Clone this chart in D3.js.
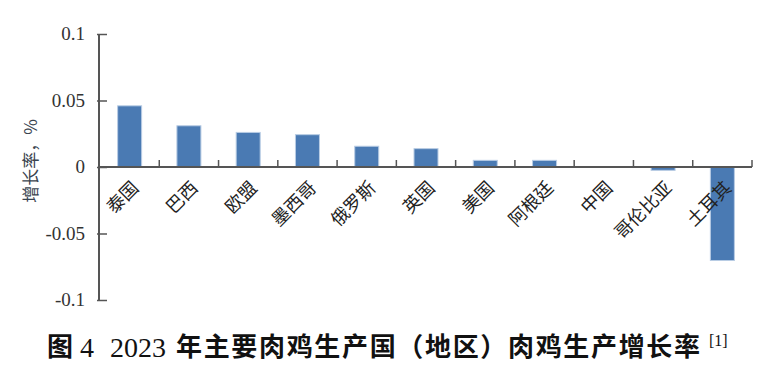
<!DOCTYPE html>
<html><head><meta charset="utf-8">
<script src="https://cdn.jsdelivr.net/npm/d3@7/dist/d3.min.js"></script>
<style>body{margin:0;background:#fff}svg{display:block}</style>
</head><body><svg id="c" width="784" height="377"></svg>
<script>
const categories = ["泰国","巴西","欧盟","墨西哥","俄罗斯","英国","美国","阿根廷","中国","哥伦比亚","土耳其"];
const values = [0.046, 0.031, 0.026, 0.0243, 0.0156, 0.0138, 0.005, 0.005, 0, -0.0025, -0.0703];
const yTicks = [0.1, 0.05, 0, -0.05, -0.1];
const yTickLabels = ["0.1","0.05","0","-0.05","-0.1"];

(function(){
const svg = d3.select("#c");
const mLeft = 100, mRight = 752, mTop = 34, mBottom = 300;
const x = d3.scaleBand().domain(categories).range([mLeft, mRight]).paddingInner(0).paddingOuter(0);
const y = d3.scaleLinear().domain([-0.1, 0.1]).range([mBottom, mTop]);
const barW = 24;
const axisColor = "#555";
const serif = "'Liberation Serif','DejaVu Serif',serif";
const cjk = "'Noto Sans CJK SC','Noto Sans CJK JP',sans-serif";

// bars
svg.append("g").selectAll("rect").data(values).join("rect")
  .attr("x", (d,i) => x(categories[i]) + x.bandwidth()/2 - barW/2)
  .attr("width", barW)
  .attr("y", d => Math.min(y(d), y(0)))
  .attr("height", d => Math.abs(y(d) - y(0)))
  .attr("fill", "#4a7ab3")
  .attr("stroke", "#b8cce4").attr("stroke-width", 1);

// y axis
const yAxis = d3.axisRight(y).tickValues(yTicks).tickSize(8).tickFormat("");
const yg = svg.append("g").attr("transform", `translate(${mLeft - 1},0)`).call(yAxis);
yg.select(".domain").attr("stroke", axisColor).attr("stroke-width", 2).attr("d", `M0,${mTop}V${mBottom}`);
yg.selectAll(".tick line").attr("stroke", axisColor).attr("stroke-width", 1.5).attr("x1", -2);
svg.append("g").selectAll("text").data(yTicks).join("text")
  .attr("x", mLeft - 15).attr("y", d => y(d) + 6)
  .attr("text-anchor", "end")
  .attr("font-family", serif).attr("font-size", 19).attr("fill", "#333")
  .text((d,i) => yTickLabels[i]);

// x axis (at zero)
const xg = svg.append("g").attr("transform", `translate(0,${y(0)})`);
xg.append("line").attr("x1", mLeft).attr("x2", mRight).attr("stroke", axisColor).attr("stroke-width", 2);
const bounds = categories.map(c => x(c) + x.bandwidth());
xg.selectAll("line.t").data(bounds).join("line").attr("class","t")
  .attr("x1", d => d).attr("x2", d => d).attr("y1", 0).attr("y2", -7)
  .attr("stroke", axisColor).attr("stroke-width", 1.5);

// category labels
svg.append("g").selectAll("text").data(categories).join("text")
  .attr("transform", c => `translate(${x(c) + x.bandwidth()/2 + 10},${y(0) + 22}) rotate(-45)`)
  .attr("text-anchor", "end")
  .attr("font-family", cjk).attr("font-size", 18).attr("fill", "#222")
  .text(c => c);

// y label
svg.append("text")
  .attr("transform", `translate(37,161) rotate(-90)`)
  .attr("text-anchor", "middle")
  .attr("font-family", cjk).attr("font-size", 17).attr("fill", "#3a4450")
  .text("增长率，%");

// title
const tg = svg.append("g").attr("fill", "#111");
tg.append("text").attr("x", 47).attr("y", 356).attr("font-family", cjk).attr("font-weight", "bold").attr("font-size", 26).text("图");
tg.append("text").attr("x", 80).attr("y", 357).attr("font-family", serif).attr("font-size", 28).text("4");
tg.append("text").attr("x", 110).attr("y", 357).attr("font-family", serif).attr("font-size", 28).text("2023");
tg.append("text").attr("x", 176).attr("y", 356).attr("font-family", cjk).attr("font-weight", "bold").attr("font-size", 26)
  .attr("textLength", 524).attr("lengthAdjust", "spacing").text("年主要肉鸡生产国（地区）肉鸡生产增长率");
tg.append("text").attr("x", 709).attr("y", 346).attr("font-family", serif).attr("font-size", 16).text("[1]");
})();
</script></body></html>
